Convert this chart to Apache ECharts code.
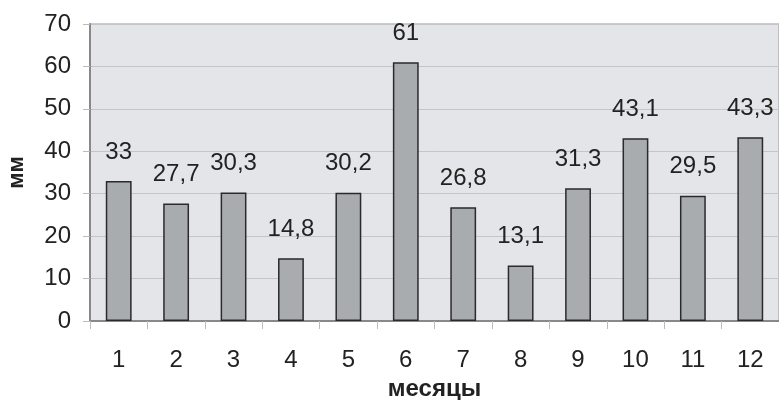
<!DOCTYPE html>
<html><head><meta charset="utf-8">
<script src="https://cdn.jsdelivr.net/npm/echarts@6/dist/echarts.min.js"></script>
<style>html,body{margin:0;padding:0;background:#fff}#c{width:779px;height:400px}</style>
</head><body><div id="c"></div>
<script>
const categories = ['1','2','3','4','5','6','7','8','9','10','11','12'];
const values = [33, 27.7, 30.3, 14.8, 30.2, 61, 26.8, 13.1, 31.3, 43.1, 29.5, 43.3];
const yTicks = [0, 10, 20, 30, 40, 50, 60, 70];
const chart = echarts.init(document.getElementById('c'));
chart.setOption({
  animation: false,
  grid: {left: 90, right: 0, top: 24, bottom: 79, outerBoundsMode: 'none', containLabel: false,
    show: true, backgroundColor: '#e4e5e8', borderColor: '#999', borderWidth: 1},
  xAxis: {
    type: 'category', data: categories,
    name: 'месяцы', nameLocation: 'middle', nameGap: 54,
    nameTextStyle: {fontFamily: 'Liberation Sans', fontSize: 24, fontWeight: 'bold', color: '#222'},
    axisLine: {lineStyle: {color: '#888', width: 2}},
    axisTick: {show: true, length: 8, lineStyle: {color: '#bbb', width: 1}},
    axisLabel: {fontFamily: 'Liberation Sans', fontSize: 24, color: '#222', margin: 27}
  },
  yAxis: {
    type: 'value', min: yTicks[0], max: yTicks[yTicks.length-1], interval: 10,
    name: 'мм', nameLocation: 'middle', nameGap: 62, nameRotate: 90,
    nameTextStyle: {fontFamily: 'Liberation Sans', fontSize: 22, fontWeight: 'bold', color: '#222'},
    axisLine: {show: true, lineStyle: {color: '#888', width: 2}},
    axisTick: {show: true, length: 7, lineStyle: {color: '#bbb'}},
    splitLine: {lineStyle: {color: '#c4c5c8', width: 1}},
    axisLabel: {fontFamily: 'Liberation Sans', fontSize: 24, color: '#222', margin: 19}
  },
  series: [{
    type: 'bar', data: values, barWidth: '45%',
    itemStyle: {color: '#a9acaf', borderColor: '#2a2a2a', borderWidth: 1.5},
    label: {show: true, position: 'top', distance: 17, fontFamily: 'Liberation Sans', fontSize: 24, color: '#222',
      formatter: p => String(p.value).replace('.', ',')}
  }]
});
</script></body></html>
